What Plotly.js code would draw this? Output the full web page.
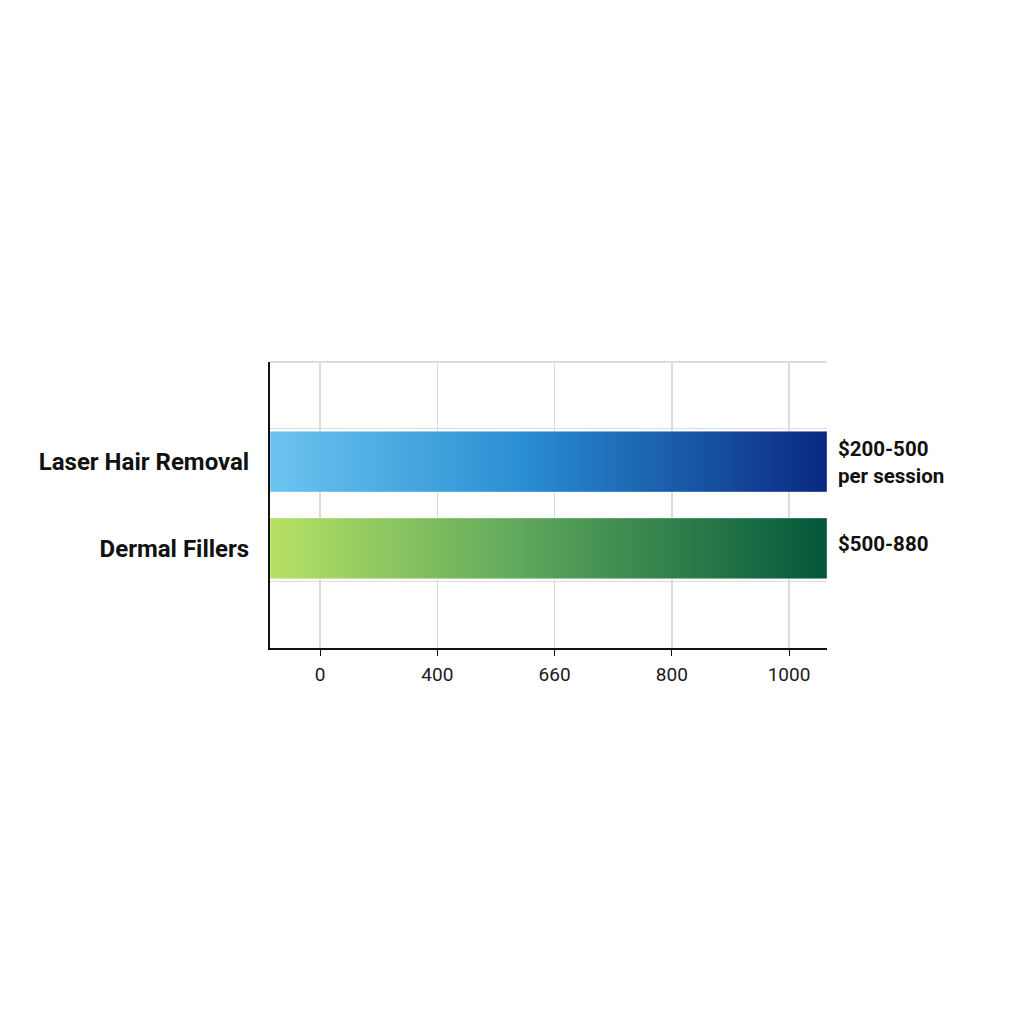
<!DOCTYPE html>
<html>
<head>
<meta charset="utf-8">
<script src="https://cdn.plot.ly/plotly-3.0.1.min.js"></script>
<style>
  html, body { margin: 0; padding: 0; background: #ffffff; }
  #chart { width: 1024px; height: 1024px; }
</style>
</head>
<body>
<div id="chart"></div>
<script>
// categories, top to bottom
const categories = ["Laser Hair Removal", "Dermal Fillers"];
const priceLabels = ["$200-500<br>per session", "$500-880"];
// bars run across the whole axis
const barStart = [-107, -107];
const barEnd = [1081, 1081];
// x axis ticks: evenly spaced, labelled as in the picture
const tickPos = [0, 250, 500, 750, 1000];
const tickLabels = ["0", "400", "660", "800", "1000"];

const gradients = [
  [[0, "#6cc4f0"], [0.45, "#2a8fd2"], [1, "#0a2882"]],
  [[0, "#b6e264"], [0.45, "#5fa85c"], [1, "#02573a"]]
];

const barHalf = 0.35;
const yPos = categories.map((c, i) => categories.length - 1 - i);

const traces = categories.map((c, i) => {
  const y0 = yPos[i] - barHalf, y1 = yPos[i] + barHalf;
  return {
    type: "scatter",
    mode: "lines",
    x: [barStart[i], barEnd[i], barEnd[i], barStart[i], barStart[i]],
    y: [y0, y0, y1, y1, y0],
    fill: "toself",
    fillgradient: { type: "horizontal", colorscale: gradients[i] },
    line: { width: 1, color: "rgba(255,255,255,0.35)" },
    hoverinfo: "skip",
    showlegend: false
  };
});

// invisible trace to activate the extra grid axis
traces.push({
  type: "scatter", x: [0], y: [0], yaxis: "y2",
  mode: "markers", marker: { opacity: 0 }, hoverinfo: "skip", showlegend: false
});

const annotations = categories.map((c, i) => ({
  xref: "paper", yref: "y",
  x: 1, y: yPos[i],
  xanchor: "left", yanchor: "middle",
  xshift: 9, yshift: i === 1 ? 4 : -1,
  align: "left",
  text: "<b>" + priceLabels[i] + "</b>",
  showarrow: false,
  font: { family: "Roboto, Inter, sans-serif", size: 20.5, color: "#111111" }
}));

const layout = {
  width: 1024,
  height: 1024,
  margin: { l: 270, r: 197, t: 362, b: 376 },
  paper_bgcolor: "#ffffff",
  plot_bgcolor: "#ffffff",
  font: { family: "Roboto, Inter, sans-serif", color: "#111111" },
  xaxis: {
    range: [-107, 1081],
    tickvals: tickPos,
    ticktext: tickLabels,
    showgrid: true,
    gridcolor: "#dcdcdc",
    gridwidth: 1.5,
    zeroline: false,
    showline: true,
    linecolor: "#111111",
    linewidth: 2,
    ticks: "outside",
    ticklen: 6,
    tickcolor: "#111111",
    ticklabelstandoff: 2,
    tickfont: { size: 19, color: "#1a1a1a" }
  },
  yaxis: {
    range: [-1.15, 2.15],
    tickvals: yPos,
    ticktext: categories.map(c => "<b>" + c + "</b>"),
    showgrid: false,
    zeroline: false,
    showline: true,
    linecolor: "#111111",
    linewidth: 2,
    ticks: "",
    ticklabelstandoff: 14,
    tickfont: { size: 24, color: "#111111" },
    fixedrange: true
  },
  yaxis2: {
    overlaying: "y",
    range: [-1.15, 2.15],
    tickvals: [-0.38, 1.38],
    showticklabels: false,
    showgrid: true,
    gridcolor: "#dcdcdc",
    gridwidth: 1.5,
    zeroline: false,
    showline: false
  },
  shapes: [{
    type: "line", xref: "paper", yref: "paper",
    x0: 0, x1: 1, y0: 1, y1: 1,
    line: { color: "#dcdcdc", width: 2 },
    layer: "below"
  }],
  annotations: annotations
};

Plotly.newPlot("chart", traces, layout, { displayModeBar: false, staticPlot: true });
</script>
</body>
</html>
